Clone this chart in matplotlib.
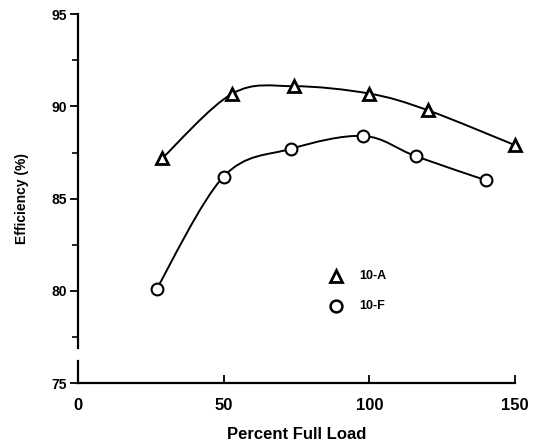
import numpy as np
import matplotlib
matplotlib.use("Agg")
import matplotlib.pyplot as plt
from matplotlib.path import Path
from matplotlib.patches import PathPatch


load_a = [29, 53, 74, 100, 120, 150]
eff_a = [87.2, 90.7, 91.1, 90.7, 89.8, 87.9]

load_f = [27, 50, 73, 98, 116, 140]
eff_f = [80.1, 86.2, 87.7, 88.4, 87.3, 86.0]

x_ticks = [0, 50, 100, 150]
y_ticks = [75, 80, 85, 90, 95]


def smooth_path(xs, ys):
    # Catmull-Rom through the points, drawn as cubic bezier segments
    pts = np.column_stack([xs, ys]).astype(float)
    ext = np.vstack([pts[0], pts, pts[-1]])
    verts = [pts[0]]
    codes = [Path.MOVETO]
    for i in range(1, len(ext) - 2):
        p0, p1, p2, p3 = ext[i - 1], ext[i], ext[i + 1], ext[i + 2]
        verts += [p1 + (p2 - p0) / 6, p2 - (p3 - p1) / 6, p2]
        codes += [Path.CURVE4] * 3
    return Path(verts, codes)


plt.rcParams["font.family"] = ["Liberation Sans", "DejaVu Sans"]
plt.rcParams["font.weight"] = "bold"

fig = plt.figure(figsize=(5.41, 4.46), dpi=100)
ax = fig.add_axes([0.144, 0.141, 0.808, 0.827])

for xs, ys in [(load_a, eff_a), (load_f, eff_f)]:
    ax.add_patch(PathPatch(smooth_path(xs, ys), fill=False, lw=1.4,
                           ec="black", clip_on=False))

ax.plot(load_a, eff_a, ls="none", marker="^", ms=8.5, mfc="white",
        mec="black", mew=2.0, clip_on=False, zorder=3)
ax.plot(load_f, eff_f, ls="none", marker="o", ms=8.5, mfc="white",
        mec="black", mew=1.5, clip_on=False, zorder=3)

# legend drawn by hand like the original figure
ax.plot([88.5], [80.8], ls="none", marker="^", ms=8.5, mfc="white",
        mec="black", mew=2.0)
ax.plot([88.5], [79.2], ls="none", marker="o", ms=8.5, mfc="white",
        mec="black", mew=1.8)
ax.text(96.5, 80.8, "10-A", fontsize=9, va="center")
ax.text(96.5, 79.2, "10-F", fontsize=9, va="center")

ax.set_xlim(0, 150)
ax.set_ylim(75, 95)

ax.spines["top"].set_visible(False)
ax.spines["right"].set_visible(False)
ax.spines["left"].set_visible(False)
ax.spines["bottom"].set_linewidth(1.6)

# left axis with a small break near the bottom
tr = ax.get_yaxis_transform()
ax.plot([0, 0], [75, 76.2], transform=tr, color="black", lw=1.6, clip_on=False)
ax.plot([0, 0], [76.9, 95], transform=tr, color="black", lw=1.6, clip_on=False)

ax.set_xticks(x_ticks)
ax.set_yticks(y_ticks)
ax.set_yticks([77.5, 82.5, 87.5, 92.5], minor=True)
ax.tick_params(axis="y", which="major", direction="out", length=6, width=1.3,
               labelsize=10, pad=2)
ax.tick_params(axis="y", which="minor", direction="out", length=4, width=1.2)
ax.tick_params(axis="x", direction="in", length=6, width=1.3,
               labelsize=12, pad=11)

ax.set_xlabel("Percent Full Load", fontsize=12, fontweight="bold", labelpad=10)
ax.set_ylabel("Efficiency (%)", fontsize=10, fontweight="bold", labelpad=16)

fig.savefig("out.png", dpi=100, facecolor="white")
